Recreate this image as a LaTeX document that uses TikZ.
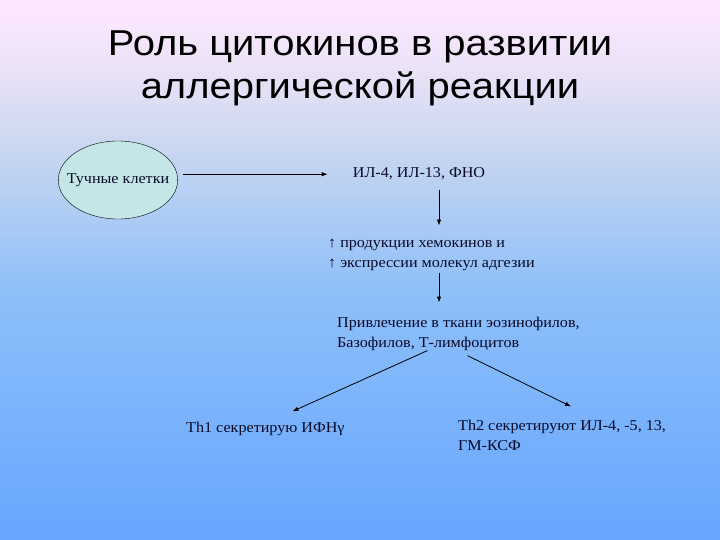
\documentclass[tikz,border=0pt]{standalone}
\usepackage{fontspec}
\setmainfont[FakeStretch=1.075]{Liberation Serif}
\newfontfamily\titlefont[FakeStretch=1.11]{Liberation Sans}
\usetikzlibrary{positioning}
\usetikzlibrary{shapes.geometric}
\usetikzlibrary{arrows.meta}

\definecolor{bgbot}{RGB}{102,166,255}
\definecolor{bgmid}{RGB}{142,191,249}
\definecolor{bgup}{RGB}{204,216,240}
\definecolor{bgpink}{RGB}{236,227,248}
\definecolor{bgtop}{RGB}{255,232,255}
\definecolor{mastfill}{RGB}{196,230,230}
\definecolor{inktext}{RGB}{10,10,40}
\pgfdeclareverticalshading{slidebg}{100bp}{color(0bp)=(bgbot); color(25bp)=(bgbot); color(48bp)=(bgmid); color(62bp)=(bgup); color(69bp)=(bgpink); color(75bp)=(bgtop); color(100bp)=(bgtop)}

\begin{document}
\begin{tikzpicture}[x=1pt, y=-1pt, every node/.style={font=\fontsize{15}{20}\selectfont, text=inktext, inner sep=2pt},
    arr/.style={-{Latex[length=6pt,width=4.5pt]}, line width=0.8pt}]
          \shade[shading=slidebg] (0,0) rectangle (720,540);
          \useasboundingbox (0,0) rectangle (720,540);

          \node[font=\titlefont\fontsize{36}{43}\selectfont, text=black, anchor=base] (title1) at (360,56) {Роль цитокинов в развитии};
          \node[font=\titlefont\fontsize{36}{43}\selectfont, text=black, anchor=base] (title2) at (360,99) {аллергической реакции};

          \node[ellipse, draw, fill=mastfill, inner xsep=-9pt, inner ysep=0pt, minimum height=78pt] (mast) at (118,180) {Тучные клетки};

          \node[anchor=base] (il) at (419,178) {ИЛ-4, ИЛ-13, ФНО};

          \node[anchor=west, align=left] (prod) at (326,254.6) {↑ продукции хемокинов и\\↑ экспрессии молекул адгезии};

          \node[anchor=west, align=left] (priv) at (335,333.6) {Привлечение в ткани эозинофилов,\\Базофилов, Т-лимфоцитов};

          \node[anchor=base west] (th1) at (184,432) {Th1 секретирую ИФНγ};
          \node[anchor=west, align=left] (th2) at (456,435) {Th2 секретируют ИЛ-4, -5, 13,\\ГМ-КСФ};

          \coordinate (down) at ([xshift=20pt]il.south);

          \draw[arr, shorten <=7pt, shorten >=11pt] (down) -- (down |- prod.north);
          \draw[arr, shorten >=12pt] (down |- prod.south) -- (down |- priv.north);
          \draw[arr, shorten <=5pt, shorten >=23pt] (mast.east |- il.west) -- (il.west);
          \draw[arr] ([xshift=-31pt, yshift=2pt]priv.south) -- ([xshift=27pt, yshift=8pt]th1.north);
          \draw[arr] ([xshift=9pt, yshift=-3pt]priv.south) -- ([xshift=9pt, yshift=11pt]th2.north);
        \end{tikzpicture}
\end{document}
